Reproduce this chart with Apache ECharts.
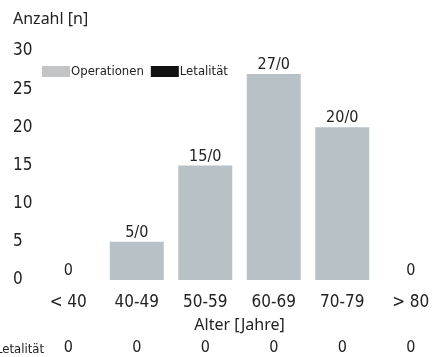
<!DOCTYPE html>
<html>
<head>
<meta charset="utf-8">
<script src="https://cdn.jsdelivr.net/npm/echarts@6/dist/echarts.min.js"></script>
<style>
  html, body { margin: 0; padding: 0; background: #fff; }
  #chart { width: 434px; height: 357px; }
</style>
</head>
<body>
<div id="chart"></div>
<script>
// Altersgruppen
let categories = ['< 40', '40-49', '50-59', '60-69', '70-79', '> 80'];
let operationen = [0, 5, 15, 27, 20, 0];
let letalitaet = [0, 0, 0, 0, 0, 0];
let yTicks = [0, 5, 10, 15, 20, 25, 30];

let narrow = '"Liberation Sans Narrow", "DejaVu Sans Condensed", sans-serif';
let wide = '"Noto Sans", "DejaVu Sans", sans-serif';

let myChart = echarts.init(document.getElementById('chart'));

let option = {
  animation: false,
  textStyle: { fontFamily: narrow, color: '#222' },
  grid: { left: 34, top: 51, width: 411, height: 229, outerBoundsMode: 'none', containLabel: false },
  legend: {
    left: 37,
    top: 60,
    icon: 'rect',
    itemWidth: 28,
    itemHeight: 11,
    itemGap: 7,
    textStyle: { fontFamily: narrow, fontSize: 13, color: '#222', padding: [0, 0, 0, -4] },
    data: [
      { name: 'Operationen', itemStyle: { color: '#c2c4c6' } },
      { name: 'Letalität', itemStyle: { color: '#111' } }
    ]
  },
  xAxis: [{
    type: 'category',
    data: categories,
    axisLine: { show: false },
    axisTick: { show: false },
    axisLabel: { fontSize: 17, margin: 14, color: '#222', fontFamily: narrow },
    name: 'Alter [Jahre]',
    nameLocation: 'middle',
    nameGap: 37,
    nameTextStyle: { fontFamily: wide, fontSize: 16, color: '#222' }
  }, {
    type: 'category',
    data: letalitaet,
    position: 'bottom',
    offset: 46,
    axisLine: { show: false },
    axisTick: { show: false },
    axisLabel: { fontSize: 16, margin: 14, color: '#222', fontFamily: narrow },
    name: 'Letalität',
    nameLocation: 'start',
    nameGap: -10,
    nameTextStyle: { fontFamily: narrow, fontSize: 13, color: '#222', verticalAlign: 'top', padding: [17, 0, 0, 0] }
  }],
  yAxis: {
    type: 'value',
    min: 0,
    max: yTicks[yTicks.length - 1],
    interval: 5,
    splitLine: { show: false },
    axisLine: { show: false },
    axisTick: { show: false },
    axisLabel: { fontSize: 17, align: 'left', margin: 21, color: '#222', fontFamily: narrow },
    name: 'Anzahl [n]',
    nameLocation: 'end',
    nameGap: 24,
    nameTextStyle: { fontFamily: wide, fontSize: 16, color: '#222', align: 'left', padding: [0, 0, 0, -21] }
  },
  series: [{
    name: 'Operationen',
    type: 'bar',
    data: operationen,
    barWidth: 54,
    barGap: '-100%',
    itemStyle: { color: '#b8c2c6' },
    label: {
      show: true,
      position: 'top',
      distance: 1,
      fontSize: 16,
      color: '#222',
      fontFamily: narrow,
      formatter: function (p) {
        return p.value === 0 ? '0' : p.value + '/' + letalitaet[p.dataIndex];
      }
    }
  }, {
    name: 'Letalität',
    type: 'bar',
    data: letalitaet,
    barWidth: 54,
    itemStyle: { color: '#111' }
  }]
};

myChart.setOption(option);
</script>
</body>
</html>
